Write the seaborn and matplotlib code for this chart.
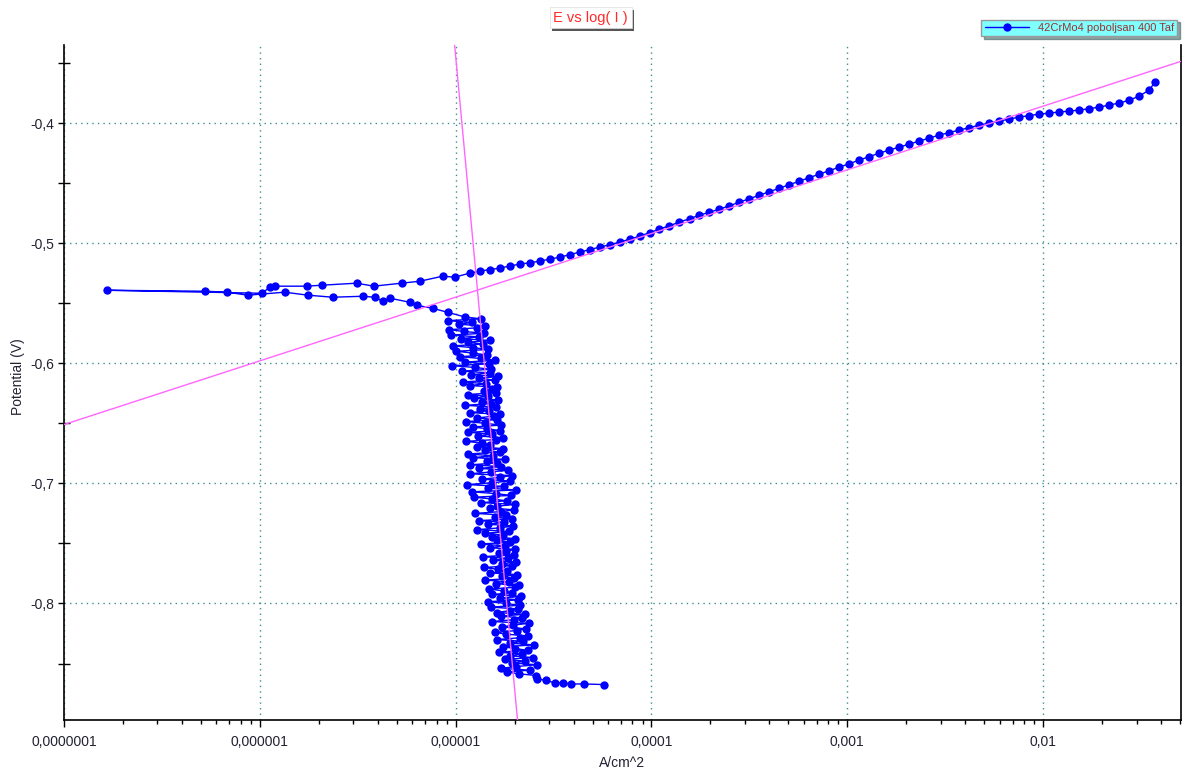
import numpy as np
import pandas as pd
import matplotlib
matplotlib.use("Agg")
import matplotlib.pyplot as plt
import seaborn as sns
from matplotlib import ticker, patheffects

# Tafel scan 42CrMo4
# current for cathodic part in uA/cm^2, potential in V
tail_e = [-0.8675, -0.867, -0.867, -0.866, -0.866, -0.864, -0.8625]
tail_i_ua = [57.5, 45.0, 38.6, 35.2, 32.0, 28.8, 25.9]

cluster_e = [
    -0.8600, -0.8585, -0.8570, -0.8555, -0.8540, -0.8525, -0.8510, -0.8495, -0.8480, -0.8465,
    -0.8450, -0.8435, -0.8420, -0.8405, -0.8390, -0.8375, -0.8360, -0.8345, -0.8330, -0.8315,
    -0.8300, -0.8285, -0.8270, -0.8255, -0.8240, -0.8225, -0.8210, -0.8195, -0.8180, -0.8165,
    -0.8150, -0.8135, -0.8120, -0.8105, -0.8090, -0.8075, -0.8060, -0.8045, -0.8030, -0.8015,
    -0.8000, -0.7985, -0.7970, -0.7955, -0.7940, -0.7925, -0.7910, -0.7895, -0.7880, -0.7865,
    -0.7850, -0.7835, -0.7820, -0.7805, -0.7790, -0.7775, -0.7760, -0.7745, -0.7730, -0.7715,
    -0.7700, -0.7685, -0.7670, -0.7655, -0.7640, -0.7625, -0.7610, -0.7595, -0.7580, -0.7565,
    -0.7550, -0.7535, -0.7520, -0.7505, -0.7490, -0.7475, -0.7460, -0.7445, -0.7430, -0.7415,
    -0.7400, -0.7385, -0.7370, -0.7355, -0.7340, -0.7325, -0.7310, -0.7295, -0.7280, -0.7265,
    -0.7250, -0.7235, -0.7220, -0.7205, -0.7190, -0.7175, -0.7160, -0.7145, -0.7130, -0.7115,
    -0.7100, -0.7085, -0.7070, -0.7055, -0.7040, -0.7025, -0.7010, -0.6995, -0.6980, -0.6965,
    -0.6950, -0.6935, -0.6920, -0.6905, -0.6890, -0.6875, -0.6860, -0.6845, -0.6830, -0.6815,
    -0.6800, -0.6785, -0.6770, -0.6755, -0.6740, -0.6725, -0.6710, -0.6695, -0.6680, -0.6665,
    -0.6650, -0.6635, -0.6620, -0.6605, -0.6590, -0.6575, -0.6560, -0.6545, -0.6530, -0.6515,
    -0.6500, -0.6485, -0.6470, -0.6455, -0.6440, -0.6425, -0.6410, -0.6395, -0.6380, -0.6365,
    -0.6350, -0.6335, -0.6320, -0.6305, -0.6290, -0.6275, -0.6260, -0.6245, -0.6230, -0.6215,
    -0.6200, -0.6185, -0.6170, -0.6155, -0.6140, -0.6125, -0.6110, -0.6095, -0.6080, -0.6065,
    -0.6050, -0.6035, -0.6020, -0.6005, -0.5990, -0.5975, -0.5960, -0.5945, -0.5930, -0.5915,
    -0.5900, -0.5885, -0.5870, -0.5855, -0.5840, -0.5825, -0.5810, -0.5795, -0.5780, -0.5765,
    -0.5750, -0.5735, -0.5720, -0.5705, -0.5690, -0.5675, -0.5660, -0.5645, -0.5630, -0.5615,
]
cluster_i_ua = [
    25.8, 21.0, 18.2, 23.9, 17.1, 20.3, 26.0, 19.4, 22.6, 17.8,
    24.7, 18.9, 21.8, 16.6, 23.3, 20.1, 17.4, 25.1, 19.0, 22.0,
    16.2, 21.4, 23.5, 18.0, 15.9, 20.6, 22.8, 17.3, 19.6, 23.7,
    15.3, 19.8, 21.9, 17.0, 22.5, 16.2, 18.9, 20.7, 15.1, 21.2,
    18.1, 14.6, 20.9, 16.8, 21.6, 15.4, 19.3, 17.6, 14.8, 20.2,
    21.0, 16.1, 18.7, 14.2, 19.9, 17.3, 20.6, 15.0, 18.2, 16.4,
    14.0, 19.5, 17.2, 20.4, 15.6, 18.5, 13.8, 19.9, 16.7, 18.0,
    20.1, 14.9, 17.8, 13.4, 19.0, 16.2, 20.2, 15.3, 17.5, 14.1,
    18.8, 12.9, 16.9, 19.7, 14.6, 17.7, 13.2, 19.4, 15.8, 18.1,
    12.6, 17.0, 19.9, 14.9, 16.3, 20.1, 13.5, 18.2, 15.4, 12.4,
    19.2, 16.0, 12.1, 20.4, 14.7, 17.6, 11.4, 15.3, 18.9, 13.6,
    16.8, 19.3, 11.8, 15.1, 18.4, 13.2, 17.1, 11.9, 16.2, 14.4,
    17.8, 12.3, 15.6, 11.5, 16.9, 14.1, 17.4, 12.8, 15.0, 13.7,
    11.3, 16.1, 17.4, 13.0, 15.4, 11.6, 16.8, 14.5, 12.2, 17.0,
    14.2, 11.3, 16.3, 12.9, 15.7, 16.9, 11.8, 14.8, 13.3, 16.0,
    11.2, 15.2, 13.6, 16.5, 12.4, 14.7, 11.5, 16.1, 13.9, 15.4,
    16.2, 11.9, 14.3, 10.9, 15.8, 13.1, 16.4, 12.0, 14.9, 10.8,
    15.1, 12.6, 9.6, 14.8, 11.1, 15.9, 13.4, 10.5, 14.4, 12.2,
    10.1, 14.7, 12.3, 9.7, 13.8, 11.5, 14.9, 10.6, 13.1, 9.5,
    13.9, 11.0, 9.3, 12.8, 14.1, 10.4, 12.1, 9.1, 13.5, 11.2,
]

lower_e = [-0.5575, -0.5542, -0.5517, -0.5492, -0.5458, -0.5483, -0.545, -0.5442,
           -0.545, -0.5433, -0.5408, -0.5433, -0.5408, -0.54, -0.5392]
lower_i_ua = [9.10, 7.63, 6.32, 5.83, 4.61, 4.24, 3.86, 3.35,
              2.36, 1.758, 1.341, 0.869, 0.679, 0.524, 0.1658]

upper_e = [-0.5417, -0.5367, -0.5358, -0.5358, -0.535, -0.5333, -0.5358, -0.5333,
           -0.5317, -0.5275, -0.5283, -0.525]
upper_i_ua = [1.024, 1.125, 1.193, 1.737, 2.07, 3.125, 3.815, 5.30,
              6.55, 8.58, 9.88, 11.78]

# anodic branch, current in A/cm^2
anodic_i = [
    1.326e-5, 1.491e-5, 1.677e-5, 1.886e-5, 2.121e-5, 2.386e-5, 2.683e-5, 3.018e-5,
    3.394e-5, 3.817e-5, 4.293e-5, 4.829e-5, 5.431e-5, 6.108e-5, 6.870e-5, 7.726e-5,
    8.690e-5, 9.773e-5, 1.099e-4, 1.236e-4, 1.390e-4, 1.564e-4, 1.759e-4, 1.978e-4,
    2.225e-4, 2.502e-4, 2.814e-4, 3.165e-4, 3.560e-4, 4.004e-4, 4.503e-4, 5.064e-4,
    5.696e-4, 6.406e-4, 7.205e-4, 8.103e-4, 9.114e-4, 1.025e-3, 1.153e-3, 1.297e-3,
    1.458e-3, 1.640e-3, 1.845e-3, 2.075e-3, 2.333e-3, 2.624e-3, 2.952e-3, 3.320e-3,
    3.734e-3, 4.200e-3, 4.723e-3, 5.312e-3, 5.975e-3, 6.720e-3, 7.558e-3, 8.500e-3,
    9.560e-3, 1.075e-2, 1.209e-2, 1.360e-2, 1.530e-2, 1.721e-2, 1.935e-2, 2.177e-2,
    2.448e-2, 2.753e-2, 3.097e-2, 3.483e-2, 3.727e-2,
]
anodic_e = [
    -0.5233, -0.522, -0.5208, -0.519, -0.5175, -0.5163, -0.515, -0.5133,
    -0.5117, -0.5096, -0.5075, -0.5054, -0.5033, -0.5013, -0.4992, -0.4967,
    -0.4942, -0.4913, -0.4883, -0.4854, -0.4825, -0.4796, -0.4767, -0.4742,
    -0.4717, -0.4688, -0.4658, -0.4629, -0.46, -0.4571, -0.4542, -0.4513,
    -0.4483, -0.4454, -0.4425, -0.4396, -0.4367, -0.4338, -0.4308, -0.4279,
    -0.425, -0.4225, -0.42, -0.4175, -0.415, -0.4125, -0.41, -0.4079,
    -0.4058, -0.4038, -0.4017, -0.4, -0.3983, -0.3967, -0.395, -0.3938,
    -0.3925, -0.3917, -0.3908, -0.39, -0.3892, -0.388, -0.3867, -0.385,
    -0.3833, -0.381, -0.3775, -0.3725, -0.3658,
]

# fitted Tafel lines
tafel_a_i = [1.0e-7, 5.06e-2]
tafel_a_e = [-0.651, -0.3486]
tafel_c_i = [9.88e-6, 2.07e-5]
tafel_c_e = [-0.335, -0.897]

series_name = "42CrMo4 poboljsan 400 Taf"

ua = tail_i_ua + cluster_i_ua + lower_i_ua + upper_i_ua
scan = pd.DataFrame({
    "current": [v * 1e-6 for v in ua] + anodic_i,
    "potential": tail_e + cluster_e + lower_e + upper_e + anodic_e,
})

sns.set_style("white")
plt.rcParams["font.family"] = ["Liberation Sans", "DejaVu Sans"]

fig = plt.figure(figsize=(11.86, 7.76), dpi=100)
ax = fig.add_axes([64 / 1186, 1 - 720 / 776, (1181 - 64) / 1186, 675 / 776])

sns.lineplot(data=scan, x="current", y="potential", sort=False, estimator=None,
             color="#0000ff", lw=1, marker="o", markersize=6, markeredgewidth=0,
             label=series_name, ax=ax)
sns.lineplot(x=tafel_a_i, y=tafel_a_e, color="#ff66ff", lw=1, ax=ax, zorder=4)
sns.lineplot(x=tafel_c_i, y=tafel_c_e, color="#ff66ff", lw=1, ax=ax, zorder=4)

ax.set_xscale("log")
ax.set_xlim(1e-7, 5.06e-2)
ax.set_ylim(-0.897, -0.335)


def dec_fmt(v, pos):
    k = int(round(np.log10(v)))
    return f"{v:.{max(0, -k)}f}".replace(".", ",")


ax.xaxis.set_major_locator(ticker.LogLocator(base=10, numticks=20))
ax.xaxis.set_minor_locator(ticker.LogLocator(base=10, subs=np.arange(2, 10), numticks=20))
ax.xaxis.set_major_formatter(ticker.FuncFormatter(dec_fmt))
ax.xaxis.set_minor_formatter(ticker.NullFormatter())
ax.yaxis.set_major_locator(ticker.MultipleLocator(0.1))
ax.yaxis.set_minor_locator(ticker.MultipleLocator(0.05))
ax.yaxis.set_major_formatter(ticker.FuncFormatter(lambda v, p: f"{v:.1f}".replace(".", ",")))

ax.tick_params(axis="x", which="major", direction="out", length=5, width=1,
               labelsize=10, labelcolor="#222233", pad=6)
ax.tick_params(axis="x", which="minor", direction="out", length=3, width=1)
ax.tick_params(axis="y", which="major", direction="out", length=4, width=1,
               labelsize=10, labelcolor="#222233", pad=3)
ax.tick_params(axis="y", which="minor", direction="inout", length=8, width=1)
ax.tick_params(which="both", bottom=True, left=True, color="black")

ax.grid(True, which="major", color="#3f8f8f", linestyle=(0, (1, 3)), linewidth=1)

ax.spines["top"].set_visible(False)
for s in ["left", "bottom", "right"]:
    ax.spines[s].set_color("black")
    ax.spines[s].set_linewidth(1.2)

ax.set_xlabel("A/cm^2", fontsize=10, color="#222233", va="center")
ax.xaxis.set_label_coords(0.5, -0.064)
ax.set_ylabel("Potential (V)", fontsize=10, color="#222233", va="center")
ax.yaxis.set_label_coords(-0.0416, 0.508)

title = fig.text(0.498, 0.9774, "E vs log( I )", color="#ff2a2a", fontsize=10.5,
                 ha="center", va="center",
                 bbox=dict(boxstyle="square,pad=0.25", fc="white", ec="#dddddd", lw=0.5))
title.get_bbox_patch().set_path_effects([
    patheffects.withSimplePatchShadow(offset=(2, -2), shadow_rgbFace="#444444", alpha=0.9)
])

leg = ax.legend(loc="upper right", bbox_to_anchor=(1183 / 1186, 1 - 14 / 776),
                bbox_transform=fig.transFigure, frameon=True, fancybox=False,
                shadow=True, facecolor="#80ffff", edgecolor="#999999", framealpha=1,
                fontsize=8, handlelength=4, borderpad=0.3, labelcolor="#993333")

fig.savefig("out.png", dpi=100)
